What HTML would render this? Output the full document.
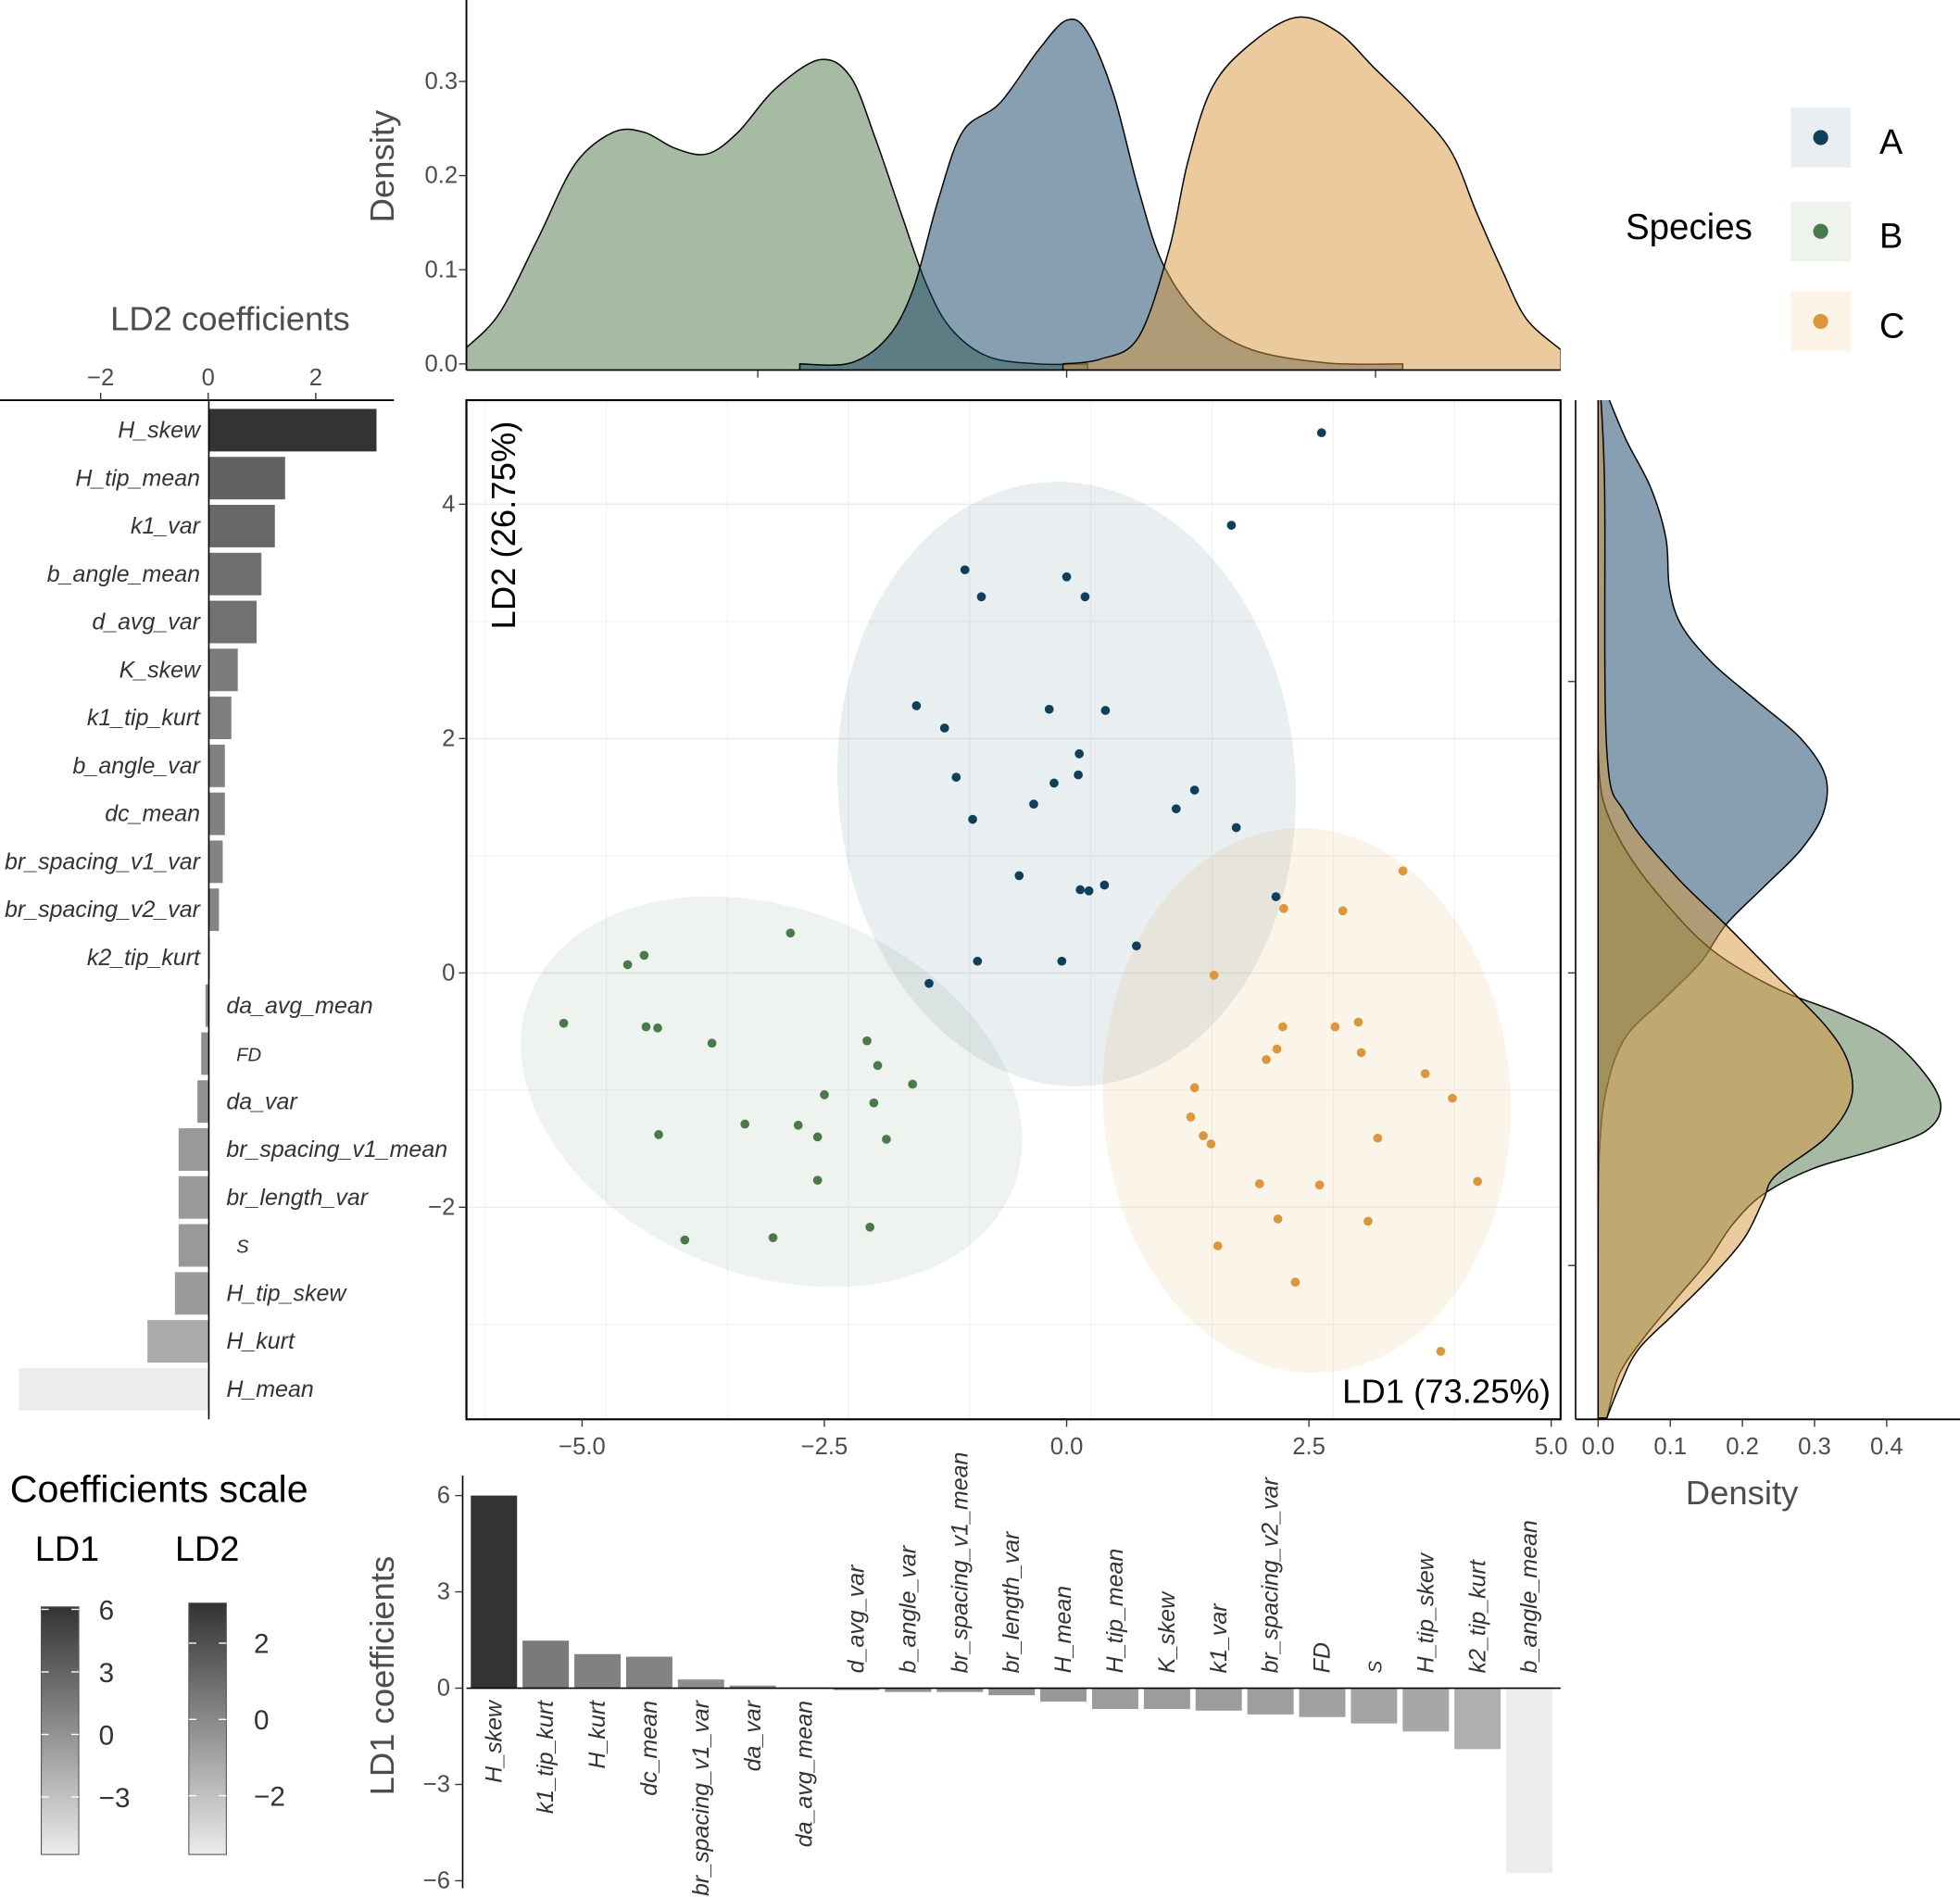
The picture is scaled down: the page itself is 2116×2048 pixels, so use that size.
<!DOCTYPE html>
<html><head><meta charset="utf-8"><style>
html,body{margin:0;padding:0;background:#fff}
svg{display:block;font-family:"Liberation Sans",sans-serif}
</style></head><body>
<svg id="chart" width="2116" height="2048" viewBox="0 0 1567.4 1517" xmlns="http://www.w3.org/2000/svg"></svg>
<script>
// ---------- data ----------
const ptsA=[[2.63,4.61],[1.70,3.82],[-1.05,3.44],[0,3.38],[-0.88,3.21],[0.19,3.21],[-1.55,2.28],[-1.26,2.09],[-0.18,2.25],[0.40,2.24],[0.13,1.87],[-1.14,1.67],[0.12,1.69],[-0.13,1.62],[-0.34,1.44],[1.32,1.56],[1.13,1.40],[-0.97,1.31],[1.75,1.24],[-0.49,0.83],[0.14,0.71],[0.23,0.70],[0.39,0.75],[2.16,0.65],[0.72,0.23],[-0.92,0.10],[-0.05,0.10],[-1.42,-0.09]];
const ptsB=[[-2.85,0.34],[-4.36,0.15],[-4.53,0.07],[-5.19,-0.43],[-4.34,-0.46],[-4.22,-0.47],[-3.66,-0.60],[-2.06,-0.58],[-1.95,-0.79],[-1.59,-0.95],[-2.50,-1.04],[-1.99,-1.11],[-3.32,-1.29],[-2.77,-1.30],[-2.57,-1.40],[-1.86,-1.42],[-4.21,-1.38],[-2.57,-1.77],[-2.03,-2.17],[-3.03,-2.26],[-3.94,-2.28]];
const ptsC=[[3.47,0.87],[2.24,0.55],[2.85,0.53],[1.52,-0.02],[3.01,-0.42],[2.23,-0.46],[2.77,-0.46],[2.17,-0.65],[3.04,-0.68],[2.06,-0.74],[3.70,-0.86],[1.32,-0.98],[3.98,-1.07],[1.28,-1.23],[1.41,-1.39],[1.49,-1.46],[3.21,-1.41],[1.99,-1.80],[2.61,-1.81],[4.24,-1.78],[2.18,-2.10],[3.11,-2.12],[1.56,-2.33],[2.36,-2.64],[3.86,-3.23]];
const topDensA=[[-2.16,0],[-1.75,0.001],[-1.45,0.028],[-1.24,0.08],[-1.04,0.174],[-0.84,0.247],[-0.54,0.277],[-0.23,0.333],[0,0.365],[0.17,0.352],[0.38,0.286],[0.58,0.186],[0.78,0.106],[1.09,0.048],[1.5,0.015],[2.11,0.001],[2.72,0]];
const topDensB=[[-4.86,0.017],[-4.59,0.054],[-4.28,0.133],[-3.98,0.212],[-3.67,0.246],[-3.42,0.246],[-3.17,0.229],[-2.91,0.223],[-2.66,0.246],[-2.36,0.292],[-2.00,0.323],[-1.75,0.305],[-1.55,0.240],[-1.34,0.160],[-1.14,0.086],[-0.94,0.038],[-0.64,0.008],[-0.23,0],[0.17,0]];
const topDensC=[[-0.03,0],[0.27,0.005],[0.58,0.028],[0.83,0.122],[0.98,0.214],[1.18,0.294],[1.49,0.340],[1.86,0.368],[2.19,0.353],[2.50,0.313],[2.81,0.273],[3.11,0.226],[3.32,0.160],[3.52,0.101],[3.72,0.048],[4.0,0.015]];
const rDensA=[[4.99,0.009],[4.56,0.038],[4.14,0.073],[3.71,0.094],[3.28,0.099],[2.96,0.116],[2.64,0.159],[2.32,0.220],[2.0,0.281],[1.68,0.315],[1.36,0.312],[1.05,0.281],[0.73,0.229],[0.41,0.177],[0.09,0.142],[-0.23,0.090],[-0.55,0.038],[-0.98,0.012],[-1.51,0.002],[-2.37,0]];
const rDensB=[[1.90,0],[1.47,0.007],[1.05,0.038],[0.62,0.090],[0.19,0.159],[-0.13,0.246],[-0.34,0.333],[-0.55,0.402],[-0.87,0.454],[-1.14,0.475],[-1.35,0.454],[-1.51,0.385],[-1.67,0.298],[-1.89,0.229],[-2.15,0.186],[-2.47,0.151],[-2.79,0.107],[-3.11,0.064],[-3.43,0.029],[-3.80,0.012]];
const rDensC=[[4.99,0.003],[4.14,0.009],[1.90,0.012],[1.36,0.038],[0.83,0.107],[0.41,0.177],[-0.02,0.246],[-0.45,0.315],[-0.77,0.347],[-1.09,0.350],[-1.41,0.315],[-1.73,0.246],[-1.94,0.229],[-2.26,0.203],[-2.58,0.159],[-2.90,0.107],[-3.22,0.055],[-3.54,0.029],[-3.80,0.012]];
const ld2Names=["H_skew","H_tip_mean","k1_var","b_angle_mean","d_avg_var","K_skew","k1_tip_kurt","b_angle_var","dc_mean","br_spacing_v1_var","br_spacing_v2_var","k2_tip_kurt","da_avg_mean","FD","da_var","br_spacing_v1_mean","br_length_var","S","H_tip_skew","H_kurt","H_mean"];
const ld2Vals=[3.13,1.43,1.24,0.99,0.9,0.55,0.43,0.31,0.31,0.27,0.2,0.03,-0.05,-0.13,-0.2,-0.55,-0.55,-0.55,-0.62,-1.13,-3.52];
const ld1Names=["H_skew","k1_tip_kurt","H_kurt","dc_mean","br_spacing_v1_var","da_var","da_avg_mean","d_avg_var","b_angle_var","br_spacing_v1_mean","br_length_var","H_mean","H_tip_mean","K_skew","k1_var","br_spacing_v2_var","FD","S","H_tip_skew","k2_tip_kurt","b_angle_mean"];
const ld1Vals=[6.0,1.48,1.06,0.98,0.27,0.08,0.02,-0.06,-0.12,-0.12,-0.22,-0.42,-0.65,-0.65,-0.7,-0.82,-0.9,-1.1,-1.35,-1.9,-5.75];
const mainXTicks=[-5,-2.5,0,2.5,5];
const mainYTicks=[-2,0,2,4];
const topYTicks=[0,0.1,0.2,0.3];
const rightXTicks=[0,0.1,0.2,0.3,0.4];
const ld2Ticks=[-2,0,2];
const ld1Ticks=[-6,-3,0,3,6];

// ---------- helpers ----------
const svg=document.getElementById('chart');
const NS='http://www.w3.org/2000/svg';
function el(tag,attrs,parent,text){const e=document.createElementNS(NS,tag);for(const k in attrs)e.setAttribute(k,attrs[k]);if(text!==undefined)e.textContent=text;(parent||svg).appendChild(e);return e;}
const mx=v=>853+77.5*v, my=v=>778-93.7*v;
const tx=v=>853+98.8*v, ty=v=>291-753*v;
const rx=v=>1278+577*v;
const l2x=v=>166.5+43*v;
const l1y=v=>1350-25.67*v;
const gray='#4d4d4d';
const colA='#0f3f61',colB='#4f7549',colC='#d7973b';

// ---------- main panel ----------
const defs=el('defs',{});
const cp=el('clipPath',{id:'mainclip'},defs);el('rect',{x:373,y:320,width:875,height:815},cp);
const cpt=el('clipPath',{id:'topclip'},defs);el('rect',{x:373,y:0,width:875,height:296},cpt);
const cpr=el('clipPath',{id:'rclip'},defs);el('rect',{x:1260,y:320,width:308,height:815},cpr);
const mainG=el('g',{'clip-path':'url(#mainclip)'});


for(let v=-6;v<=6;v+=1.25){const l=el('line',{x1:mx(v),x2:mx(v),y1:320,y2:1135,stroke:'#ececec','stroke-width':Number.isInteger(v/2.5)?1.1:0.6},mainG);

}
for(let v=-4;v<=5;v+=1){const l=el('line',{x1:373,x2:1248,y1:my(v),y2:my(v),stroke:'#ececec','stroke-width':v%2===0?1.1:0.6},mainG);

}
const eA=el('ellipse',{cx:853,cy:627,rx:183,ry:242,fill:colA,'fill-opacity':0.09,transform:'rotate(-4 853 627)'},mainG);


const eB=el('ellipse',{cx:617,cy:873,rx:208,ry:146,fill:colB,'fill-opacity':0.09,transform:'rotate(22 617 873)'},mainG);


const eC=el('ellipse',{cx:1045,cy:880,rx:163,ry:218,fill:colC,'fill-opacity':0.11,transform:'rotate(-3 1045 880)'},mainG);


[[ptsA,'#103f5c','point-a'],[ptsB,'#4a7a4b','point-b'],[ptsC,'#dd9640','point-c']].forEach(([arr,c,n])=>arr.forEach(p=>{const d=el('circle',{cx:mx(p[0]),cy:my(p[1]),r:3.6,fill:c},mainG);

}));
const frame=el('rect',{x:373,y:320,width:875,height:815,fill:'none',stroke:'#000','stroke-width':1.6});


mainXTicks.forEach(v=>{el('line',{x1:mx(v),x2:mx(v),y1:1135,y2:1141,stroke:'#333'});const t=el('text',{x:mx(v),y:1163,'text-anchor':'middle','font-size':19,fill:gray},svg,v.toFixed(1).replace('-','\u2212'));

});
mainYTicks.forEach(v=>{el('line',{x1:367,x2:373,y1:my(v),y2:my(v),stroke:'#333'});const t=el('text',{x:364,y:my(v)+6,'text-anchor':'end','font-size':19,fill:gray},svg,String(v).replace('-','\u2212'));

});
const ld2t=el('text',{x:412,y:420,'text-anchor':'middle','font-size':27,fill:'#000',transform:'rotate(-90 412 420)'},svg,'LD2 (26.75%)');


const ld1t=el('text',{x:1240,y:1122,'text-anchor':'end','font-size':27,fill:'#000'},svg,'LD1 (73.25%)');



// ---------- top density ----------
const topG=el('g',{'clip-path':'url(#topclip)'});


function smoothLine(pts){let d='M'+pts[0][0]+','+pts[0][1];for(let i=0;i<pts.length-1;i++){const p0=pts[Math.max(0,i-1)],p1=pts[i],p2=pts[i+1],p3=pts[Math.min(pts.length-1,i+2)];d+=' C'+(p1[0]+(p2[0]-p0[0])/6)+','+(p1[1]+(p2[1]-p0[1])/6)+' '+(p2[0]-(p3[0]-p1[0])/6)+','+(p2[1]-(p3[1]-p1[1])/6)+' '+p2[0]+','+p2[1];}return d;}
function topArea(arr){const pts=arr.map(p=>[tx(p[0]),ty(p[1])]);return smoothLine(pts)+' L'+pts[pts.length-1][0]+',296 L'+pts[0][0]+',296Z';}
[[topDensB,colB,'density-b'],[topDensA,colA,'density-a'],[topDensC,colC,'density-c']].forEach(([a,c,n])=>{const p=el('path',{d:topArea(a),fill:c,'fill-opacity':0.5,stroke:'#000','stroke-width':1.1},topG);

});
el('line',{x1:373,x2:373,y1:0,y2:296,stroke:'#000','stroke-width':1.4});
el('line',{x1:373,x2:1248,y1:296,y2:296,stroke:'#000','stroke-width':1.2});
[-2.5,0,2.5].forEach(v=>el('line',{x1:tx(v),x2:tx(v),y1:296,y2:302,stroke:'#333'}));
topYTicks.forEach(v=>{el('line',{x1:367,x2:373,y1:ty(v),y2:ty(v),stroke:'#333'});const t=el('text',{x:366,y:ty(v)+6,'text-anchor':'end','font-size':19,fill:gray},svg,v.toFixed(1));

});
const dt=el('text',{x:315,y:133,'text-anchor':'middle','font-size':27,fill:gray,transform:'rotate(-90 315 133)'},svg,'Density');



// ---------- right density ----------
const rg=el('g',{'clip-path':'url(#rclip)'});


function rArea(arr){const pts=arr.map(p=>[rx(p[1]),my(p[0])]);return smoothLine(pts)+' L'+rx(0)+','+pts[pts.length-1][1]+' L'+rx(0)+','+pts[0][1]+'Z';}
[[rDensA,colA,'rdensity-a'],[rDensB,colB,'rdensity-b'],[rDensC,colC,'rdensity-c']].forEach(([a,c,n])=>{const p=el('path',{d:rArea(a),fill:c,'fill-opacity':0.5,stroke:'#000','stroke-width':1.1},rg);

});
el('line',{x1:1260,x2:1260,y1:320,y2:1135,stroke:'#000','stroke-width':1.2});
el('line',{x1:1260,x2:1568,y1:1135,y2:1135,stroke:'#000','stroke-width':1.4});
[545,778,1012].forEach(y=>el('line',{x1:1254,x2:1260,y1:y,y2:y,stroke:'#333'}));
rightXTicks.forEach(v=>{el('line',{x1:rx(v),x2:rx(v),y1:1135,y2:1141,stroke:'#333'});const t=el('text',{x:rx(v),y:1163,'text-anchor':'middle','font-size':19,fill:gray},svg,v.toFixed(1));

});
const rdt=el('text',{x:1393,y:1203,'text-anchor':'middle','font-size':27,fill:gray},svg,'Density');



// ---------- gray scale ----------
function grayFor(v,min,max){const t=(v-min)/(max-min);const g=Math.round(236-(236-51)*t);return 'rgb('+g+','+g+','+g+')';}

// ---------- LD2 bars (left) ----------
const l2=el('g',{});


const l2min=Math.min(...ld2Vals),l2max=Math.max(...ld2Vals);
ld2Names.forEach((n,i)=>{const cy=344+38.35*i,v=ld2Vals[i];const x0=Math.min(l2x(0),l2x(v));
 const b=el('rect',{x:x0,y:cy-17,width:Math.abs(l2x(v)-l2x(0)),height:34,fill:grayFor(v,l2min,l2max)},l2);
 
 
 const small=(n==='FD'||n==='S');const pos=v>=0;
 const t=el('text',{x:pos?160:(small?189:181),y:cy+6,'text-anchor':pos?'end':'start','font-size':small?15:18.5,'font-style':'italic',fill:'#333'},l2,n);
 
 });
el('line',{x1:0,x2:315,y1:320,y2:320,stroke:'#000','stroke-width':1.4});
el('line',{x1:167,x2:167,y1:320,y2:1135,stroke:'#000','stroke-width':1.2});
ld2Ticks.forEach(v=>{el('line',{x1:l2x(v),x2:l2x(v),y1:314,y2:320,stroke:'#333'});const t=el('text',{x:l2x(v),y:308,'text-anchor':'middle','font-size':19,fill:gray},svg,String(v).replace('-','\u2212'));

});
const l2t=el('text',{x:184,y:264,'text-anchor':'middle','font-size':27,fill:gray},svg,'LD2 coefficients');



// ---------- LD1 bars (bottom) ----------
const l1=el('g',{});


const l1min=Math.min(...ld1Vals),l1max=Math.max(...ld1Vals);
ld1Names.forEach((n,i)=>{const cx=395+41.4*i,v=ld1Vals[i];const y0=Math.min(l1y(0),l1y(v));
 const b=el('rect',{x:cx-18.5,y:y0,width:37,height:Math.max(1,Math.abs(l1y(v)-l1y(0))),fill:grayFor(v,l1min,l1max)},l1);
 
 
 const small=(n==='S');const pos=v>=0;const yy=pos?1360:1338;
 const t=el('text',{x:cx+6,y:yy,'text-anchor':pos?'end':'start','font-size':small?15:18.5,'font-style':'italic',fill:'#333',transform:'rotate(-90 '+(cx+6)+' '+yy+')'},l1,n);
 
 });
el('line',{x1:370,x2:370,y1:1180,y2:1510,stroke:'#000','stroke-width':1.2});
el('line',{x1:373,x2:1248,y1:1350,y2:1350,stroke:'#000','stroke-width':1.2});
ld1Ticks.forEach(v=>{el('line',{x1:364,x2:370,y1:l1y(v),y2:l1y(v),stroke:'#333'});const t=el('text',{x:360,y:l1y(v)+6,'text-anchor':'end','font-size':19,fill:gray},svg,String(v).replace('-','\u2212'));

});
const l1t=el('text',{x:315,y:1340,'text-anchor':'middle','font-size':27,fill:gray,transform:'rotate(-90 315 1340)'},svg,'LD1 coefficients');



// ---------- colour scale legend ----------
const lg=el('linearGradient',{id:'gscale',x1:0,y1:1,x2:0,y2:0},defs);
el('stop',{offset:0,'stop-color':'#ececec'},lg);el('stop',{offset:1,'stop-color':'#333'},lg);
const cst=el('text',{x:8,y:1201,'font-size':30.5,fill:'#000'},svg,'Coefficients scale');


const c1=el('text',{x:28,y:1248,'font-size':28,fill:'#000'},svg,'LD1');


const c2=el('text',{x:140,y:1248,'font-size':28,fill:'#000'},svg,'LD2');


const g1=el('rect',{x:33,y:1285,width:30,height:198,fill:'url(#gscale)',stroke:'#555','stroke-width':0.8});


const g2=el('rect',{x:151,y:1282,width:30,height:201,fill:'url(#gscale)',stroke:'#555','stroke-width':0.8});


[[6,1287],[3,1337],[0,1387],[-3,1437]].forEach(([v,y])=>{el('line',{x1:33,x2:39,y1:y,y2:y,stroke:'#fff'});el('line',{x1:57,x2:63,y1:y,y2:y,stroke:'#fff'});el('text',{x:79,y:y+8,'font-size':22,fill:'#333'},svg,String(v).replace('-','\u2212'));});
[[2,1314],[0,1375],[-2,1436]].forEach(([v,y])=>{el('line',{x1:151,x2:157,y1:y,y2:y,stroke:'#fff'});el('line',{x1:175,x2:181,y1:y,y2:y,stroke:'#fff'});el('text',{x:203,y:y+8,'font-size':22,fill:'#333'},svg,String(v).replace('-','\u2212'));});

// ---------- species legend ----------
const st=el('text',{x:1300,y:191,'font-size':28.5,fill:'#000'},svg,'Species');


[['A',86,'#e8eef2','#103f5c'],['B',161,'#eef3ec','#4a7a4b'],['C',233,'#fdf3e6','#dd9640']].forEach(([n,y,bg,c])=>{
 const g=el('g',{});
 
 
 el('rect',{x:1432,y:y,width:48,height:48,fill:bg},g);el('circle',{cx:1456,cy:y+24,r:6,fill:c},g);
 el('text',{x:1503,y:y+37,'font-size':28,fill:'#000'},g,n);});
</script>
</body></html>
